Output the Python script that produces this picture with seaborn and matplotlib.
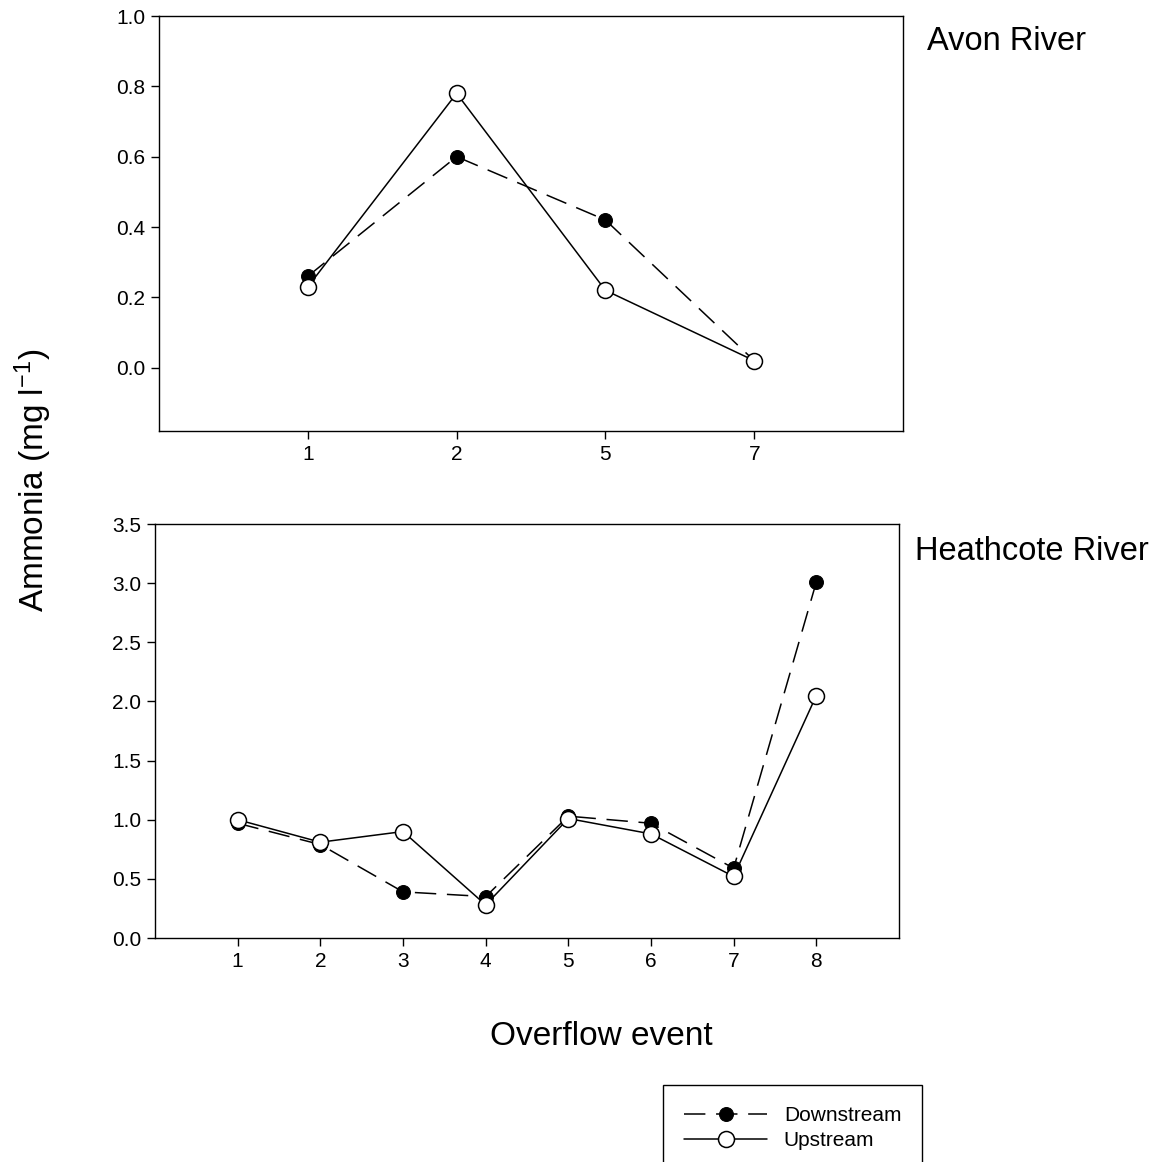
import numpy as np
import pandas as pd
import matplotlib
matplotlib.use("Agg")
import matplotlib.pyplot as plt
import seaborn as sns

# Avon River data (overflow events 1, 2, 5, 7)
avon_events = ["1", "2", "5", "7"]
avon_down = [0.26, 0.60, 0.42, 0.02]
avon_up = [0.23, 0.78, 0.22, 0.02]

# Heathcote River data (overflow events 1-8)
heath_events = ["1", "2", "3", "4", "5", "6", "7", "8"]
heath_down = [0.97, 0.79, 0.39, 0.35, 1.03, 0.97, 0.59, 3.01]
heath_up = [1.00, 0.81, 0.90, 0.28, 1.01, 0.88, 0.52, 2.05]

avon_yticks = [0.0, 0.2, 0.4, 0.6, 0.8, 1.0]
heath_yticks = [0.0, 0.5, 1.0, 1.5, 2.0, 2.5, 3.0, 3.5]

sns.set_style("ticks")
plt.rcParams["font.family"] = ["Liberation Sans", "DejaVu Sans"]
plt.rcParams["mathtext.fontset"] = "custom"
plt.rcParams["mathtext.rm"] = "Liberation Sans"
plt.rcParams["mathtext.it"] = "Liberation Sans:italic"
plt.rcParams["mathtext.default"] = "regular"
plt.rcParams["text.color"] = "black"
plt.rcParams["axes.labelcolor"] = "black"
plt.rcParams["xtick.color"] = "black"
plt.rcParams["ytick.color"] = "black"
plt.rcParams["legend.labelcolor"] = "black"

W, H = 1161, 1162
fig = plt.figure(figsize=(W / 100, H / 100), dpi=100)


def px_axes(left, top, right, bottom):
    return fig.add_axes([left / W, 1 - bottom / H, (right - left) / W, (bottom - top) / H])


ax1 = px_axes(159, 16, 903, 431)
ax2 = px_axes(155, 524, 899, 938)

dash = (0, (14, 7))


def draw(ax, events, down, up):
    sns.lineplot(x=events, y=down, ax=ax, color="black", linestyle=dash, lw=1.1,
                 marker="o", markersize=10, markerfacecolor="black",
                 markeredgecolor="black", label="Downstream", sort=False)
    sns.lineplot(x=events, y=up, ax=ax, color="black", linestyle="-", lw=1.1,
                 marker="o", markersize=11.5, markerfacecolor="white",
                 markeredgecolor="black", markeredgewidth=1.1, label="Upstream", sort=False)
    ax.set_xlabel("")
    ax.set_ylabel("")
    for s in ax.spines.values():
        s.set_visible(True)
        s.set_linewidth(1.0)
        s.set_color("black")
    ax.tick_params(direction="out", length=6, width=1, labelsize=15, colors="black",
                   top=False, right=False, pad=4)


draw(ax1, avon_events, avon_down, avon_up)
ax1.set_xlim(-1, len(avon_events))
ax1.set_ylim(-0.18, 1.0)
ax1.set_yticks(avon_yticks)
ax1.set_yticklabels([f"{v:.1f}" for v in avon_yticks])

draw(ax2, heath_events, heath_down, heath_up)
ax2.set_xlim(-1, len(heath_events))
ax2.set_ylim(0, 3.5)
ax2.set_yticks(heath_yticks)
ax2.set_yticklabels([f"{v:.1f}" for v in heath_yticks])

handles, labels = ax2.get_legend_handles_labels()
ax1.get_legend().remove()
ax2.get_legend().remove()

leg = fig.legend(handles, labels, loc="upper left",
                 bbox_to_anchor=(663 / W, 1 - 1085 / H), bbox_transform=fig.transFigure,
                 fontsize=15, frameon=True, fancybox=False, framealpha=1,
                 edgecolor="black", borderpad=1.0, borderaxespad=0,
                 handlelength=4.0, handletextpad=0.8, labelspacing=0.3)
leg.get_frame().set_linewidth(1.0)

fig.text(927 / W, 1 - 50 / H, "Avon River", fontsize=23.5, ha="left", va="baseline")
fig.text(915 / W, 1 - 560 / H, "Heathcote River", fontsize=23.5, ha="left", va="baseline")
fig.text(601 / W, 1 - 1045 / H, "Overflow event", fontsize=24, ha="center", va="baseline")
fig.text(33 / W, 1 - 480 / H, r"Ammonia (mg l$^{-1}$)", fontsize=24, rotation=90,
         ha="center", va="center")

fig.savefig("out.png", dpi=100)
